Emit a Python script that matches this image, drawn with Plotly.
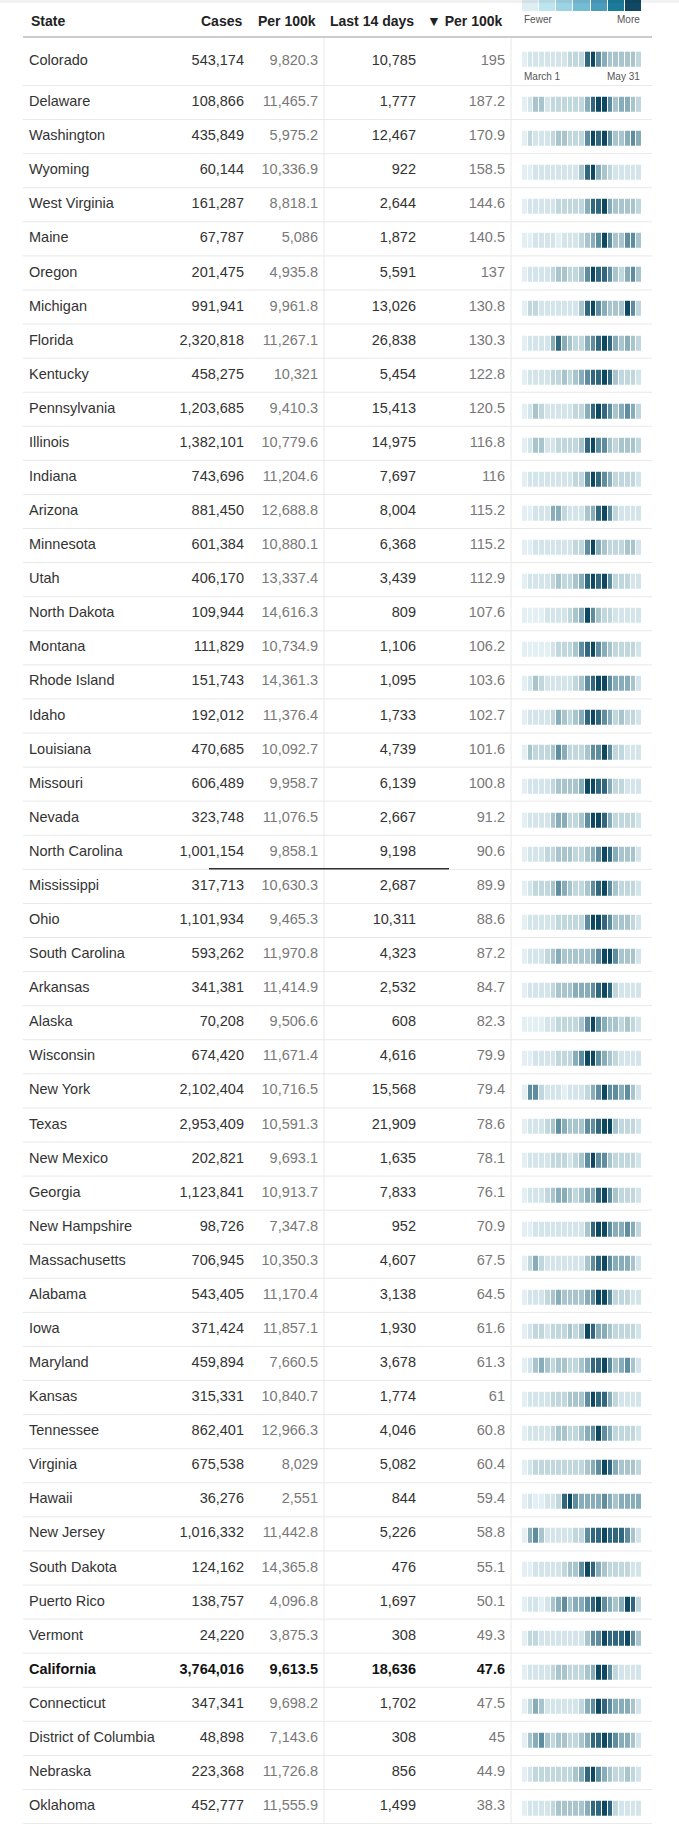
import plotly.graph_objects as go

states = ["Colorado", "Delaware", "Washington", "Wyoming", "West Virginia", "Maine", "Oregon",
          "Michigan", "Florida", "Kentucky", "Pennsylvania", "Illinois", "Indiana", "Arizona",
          "Minnesota", "Utah", "North Dakota", "Montana", "Rhode Island", "Idaho", "Louisiana",
          "Missouri", "Nevada", "North Carolina", "Mississippi", "Ohio", "South Carolina",
          "Arkansas", "Alaska", "Wisconsin", "New York", "Texas", "New Mexico", "Georgia",
          "New Hampshire", "Massachusetts", "Alabama", "Iowa", "Maryland", "Kansas", "Tennessee",
          "Virginia", "Hawaii", "New Jersey", "South Dakota", "Puerto Rico", "Vermont",
          "California", "Connecticut", "District of Columbia", "Nebraska", "Oklahoma"]

cases = [543174, 108866, 435849, 60144, 161287, 67787, 201475, 991941, 2320818, 458275,
         1203685, 1382101, 743696, 881450, 601384, 406170, 109944, 111829, 151743, 192012,
         470685, 606489, 323748, 1001154, 317713, 1101934, 593262, 341381, 70208, 674420,
         2102404, 2953409, 202821, 1123841, 98726, 706945, 543405, 371424, 459894, 315331,
         862401, 675538, 36276, 1016332, 124162, 138757, 24220, 3764016, 347341, 48898,
         223368, 452777]

per_100k = [9820.3, 11465.7, 5975.2, 10336.9, 8818.1, 5086, 4935.8, 9961.8, 11267.1, 10321,
            9410.3, 10779.6, 11204.6, 12688.8, 10880.1, 13337.4, 14616.3, 10734.9, 14361.3,
            11376.4, 10092.7, 9958.7, 11076.5, 9858.1, 10630.3, 9465.3, 11970.8, 11414.9,
            9506.6, 11671.4, 10716.5, 10591.3, 9693.1, 10913.7, 7347.8, 10350.3, 11170.4,
            11857.1, 7660.5, 10840.7, 12966.3, 8029, 2551, 11442.8, 14365.8, 4096.8, 3875.3,
            9613.5, 9698.2, 7143.6, 11726.8, 11555.9]

last_14 = [10785, 1777, 12467, 922, 2644, 1872, 5591, 13026, 26838, 5454, 15413, 14975, 7697,
           8004, 6368, 3439, 809, 1106, 1095, 1733, 4739, 6139, 2667, 9198, 2687, 10311, 4323,
           2532, 608, 4616, 15568, 21909, 1635, 7833, 952, 4607, 3138, 1930, 3678, 1774, 4046,
           5082, 844, 5226, 476, 1697, 308, 18636, 1702, 308, 856, 1499]

per_100k_14 = [195, 187.2, 170.9, 158.5, 144.6, 140.5, 137, 130.8, 130.3, 122.8, 120.5, 116.8,
               116, 115.2, 115.2, 112.9, 107.6, 106.2, 103.6, 102.7, 101.6, 100.8, 91.2, 90.6,
               89.9, 88.6, 87.2, 84.7, 82.3, 79.9, 79.4, 78.6, 78.1, 76.1, 70.9, 67.5, 64.5,
               61.6, 61.3, 61, 60.8, 60.4, 59.4, 58.8, 55.1, 50.1, 49.3, 47.6, 47.5, 45, 44.9,
               38.3]

# shade level (0 = fewest ... 7 = most) of each period from March 1 to May 31
weekly_levels = [
    [0, 1, 1, 1, 1, 1, 1, 1, 2, 2, 2, 6, 7, 5, 4, 3, 3, 3, 3, 3, 2],
    [0, 1, 3, 3, 1, 2, 2, 2, 2, 2, 2, 4, 6, 7, 7, 5, 3, 4, 4, 3, 2],
    [0, 2, 1, 1, 1, 2, 3, 3, 2, 2, 2, 5, 7, 6, 7, 5, 3, 3, 4, 5, 4],
    [0, 0, 1, 1, 1, 1, 1, 1, 1, 1, 3, 6, 7, 4, 3, 2, 1, 1, 1, 1, 1],
    [0, 1, 1, 1, 1, 1, 2, 2, 2, 2, 2, 4, 6, 6, 7, 4, 3, 3, 3, 3, 2],
    [0, 0, 1, 1, 1, 1, 0, 1, 1, 1, 2, 3, 4, 5, 7, 5, 3, 3, 5, 5, 3],
    [0, 1, 1, 1, 1, 2, 3, 3, 2, 2, 3, 5, 7, 6, 6, 5, 3, 2, 4, 5, 3],
    [0, 2, 2, 1, 1, 1, 1, 1, 1, 1, 3, 6, 7, 5, 4, 3, 3, 3, 7, 5, 2],
    [0, 1, 1, 1, 1, 4, 6, 4, 3, 2, 2, 4, 5, 6, 7, 6, 4, 3, 4, 3, 2],
    [0, 1, 1, 1, 1, 2, 2, 3, 2, 3, 4, 5, 6, 6, 7, 6, 3, 2, 2, 2, 1],
    [0, 1, 3, 2, 1, 1, 1, 1, 1, 2, 2, 4, 6, 7, 6, 5, 3, 4, 5, 4, 2],
    [0, 1, 3, 3, 1, 1, 2, 2, 2, 2, 3, 6, 7, 5, 5, 3, 2, 3, 3, 3, 2],
    [0, 1, 1, 1, 1, 1, 1, 1, 1, 2, 2, 5, 7, 6, 5, 4, 2, 2, 2, 2, 1],
    [0, 0, 1, 1, 1, 4, 4, 2, 1, 1, 1, 3, 4, 6, 7, 5, 2, 1, 1, 1, 1],
    [0, 0, 1, 1, 1, 1, 1, 1, 1, 2, 2, 5, 7, 4, 3, 2, 2, 2, 3, 3, 1],
    [0, 1, 1, 1, 1, 2, 3, 2, 2, 3, 4, 6, 7, 6, 7, 5, 2, 2, 2, 1, 1],
    [0, 0, 0, 0, 1, 1, 1, 1, 2, 3, 4, 7, 5, 3, 2, 2, 1, 1, 1, 1, 1],
    [0, 0, 0, 0, 0, 1, 2, 2, 2, 3, 5, 6, 7, 5, 4, 3, 2, 2, 2, 2, 1],
    [0, 1, 3, 2, 1, 1, 1, 1, 1, 2, 3, 5, 6, 7, 7, 5, 4, 4, 4, 3, 1],
    [0, 1, 1, 1, 1, 2, 4, 3, 2, 3, 4, 6, 7, 6, 5, 4, 2, 3, 2, 2, 1],
    [0, 3, 2, 2, 2, 3, 5, 4, 2, 2, 2, 3, 5, 5, 7, 5, 2, 2, 1, 1, 1],
    [0, 1, 1, 1, 1, 2, 3, 3, 3, 3, 4, 7, 7, 6, 6, 4, 2, 2, 1, 1, 1],
    [0, 1, 1, 1, 1, 3, 4, 4, 2, 2, 3, 5, 7, 7, 6, 4, 2, 2, 2, 2, 1],
    [0, 1, 1, 1, 2, 2, 3, 3, 3, 2, 2, 3, 4, 5, 7, 6, 4, 3, 3, 3, 1],
    [0, 1, 2, 2, 2, 3, 5, 4, 3, 2, 2, 3, 5, 6, 7, 5, 3, 2, 2, 2, 1],
    [0, 1, 1, 1, 1, 1, 2, 2, 2, 2, 2, 5, 7, 7, 6, 5, 3, 3, 3, 2, 1],
    [0, 1, 1, 1, 2, 3, 4, 3, 3, 3, 3, 3, 4, 5, 7, 7, 5, 3, 3, 3, 1],
    [0, 1, 1, 1, 1, 2, 3, 3, 3, 4, 4, 4, 5, 6, 7, 6, 2, 1, 1, 1, 1],
    [0, 0, 0, 0, 1, 1, 2, 2, 2, 2, 3, 5, 7, 5, 4, 3, 3, 2, 3, 2, 1],
    [0, 0, 1, 1, 1, 1, 2, 2, 2, 4, 5, 7, 7, 5, 4, 3, 2, 1, 1, 1, 1],
    [0, 5, 5, 2, 1, 1, 1, 0, 1, 1, 1, 2, 4, 5, 7, 5, 5, 4, 5, 3, 1],
    [0, 1, 1, 1, 2, 3, 5, 4, 3, 3, 3, 5, 5, 6, 7, 7, 3, 2, 2, 2, 1],
    [0, 1, 1, 1, 1, 2, 2, 2, 1, 2, 3, 5, 7, 5, 5, 3, 2, 2, 2, 2, 1],
    [0, 1, 1, 1, 2, 3, 4, 4, 3, 2, 3, 4, 4, 6, 7, 5, 3, 2, 2, 2, 1],
    [0, 0, 1, 1, 1, 1, 1, 1, 1, 1, 1, 3, 6, 7, 7, 5, 4, 4, 5, 4, 2],
    [0, 2, 4, 2, 1, 1, 1, 1, 1, 1, 1, 3, 5, 6, 7, 5, 4, 4, 4, 3, 1],
    [0, 1, 1, 1, 2, 3, 4, 3, 3, 3, 3, 4, 5, 7, 7, 5, 2, 2, 2, 1, 1],
    [0, 1, 2, 2, 1, 2, 2, 2, 3, 2, 3, 7, 6, 4, 4, 3, 2, 2, 2, 2, 1],
    [0, 1, 3, 4, 3, 2, 3, 3, 2, 2, 3, 4, 6, 6, 7, 5, 3, 4, 5, 3, 1],
    [0, 1, 1, 1, 1, 2, 2, 2, 3, 3, 3, 5, 7, 6, 6, 4, 2, 1, 1, 1, 1],
    [0, 1, 1, 1, 1, 2, 3, 3, 2, 2, 3, 4, 5, 7, 5, 4, 2, 2, 2, 2, 1],
    [0, 1, 2, 2, 2, 2, 2, 2, 2, 2, 2, 3, 4, 5, 7, 6, 4, 3, 3, 3, 2],
    [0, 1, 0, 0, 1, 1, 2, 6, 7, 5, 4, 4, 4, 4, 5, 4, 3, 4, 4, 4, 4],
    [0, 4, 5, 3, 1, 1, 1, 1, 1, 2, 2, 5, 6, 6, 7, 6, 6, 6, 5, 3, 1],
    [0, 0, 1, 1, 1, 1, 1, 2, 3, 3, 5, 7, 6, 4, 3, 2, 2, 2, 2, 1, 1],
    [0, 1, 1, 0, 1, 3, 4, 5, 3, 4, 4, 5, 6, 7, 5, 4, 3, 4, 7, 6, 2],
    [0, 2, 2, 1, 1, 1, 1, 1, 1, 1, 1, 3, 5, 5, 7, 6, 6, 6, 7, 5, 3],
    [0, 1, 1, 1, 1, 2, 3, 3, 2, 2, 2, 3, 4, 7, 7, 5, 2, 1, 1, 1, 1],
    [0, 2, 4, 3, 1, 1, 1, 1, 1, 1, 2, 4, 5, 7, 6, 5, 4, 4, 4, 3, 1],
    [0, 3, 4, 5, 3, 2, 3, 3, 2, 2, 3, 4, 6, 6, 7, 6, 5, 4, 4, 3, 1],
    [0, 1, 2, 2, 2, 2, 2, 2, 2, 3, 4, 6, 7, 5, 4, 3, 2, 2, 3, 2, 1],
    [0, 1, 1, 1, 1, 2, 3, 3, 3, 3, 3, 4, 6, 6, 7, 6, 2, 1, 1, 1, 1],
]

legend_levels = [0, 1, 2, 3, 4, 5, 6]
highlight_state = "California"

# ---- styling ----
W, H = 679, 1833
FONT = "Liberation Sans, Arial, sans-serif"
strip_colors = ["#e2eff4", "#d3e4ea", "#c1d7de", "#a8c5ce", "#88adba", "#5f8da0",
                "#31677e", "#0c4862"]
legend_colors = ["#dfeef3", "#bde5ef", "#9dd3e2", "#74bcd4", "#4b9bbb", "#1c7b9a", "#104864"]

x_left, x_right = 23, 652
x_state = 29
x_cases, x_per, x_div1, x_last, x_per14, x_div2 = 244, 318, 324, 416, 505, 511
strip_x0, strip_x1 = 522, 642

header_y = 37
first_bottom = 85.5
row_h = 34.08


def steps(colors):
    n = len(colors)
    scale = []
    for i, c in enumerate(colors):
        scale += [[i / n, c], [(i + 1) / n, c]]
    return scale


def fmt(v):
    s = f"{v:,.1f}"
    return s[:-2] if s.endswith(".0") else s


n = len(states)
row_top = [header_y] + [first_bottom + i * row_h for i in range(n - 1)]
row_bot = [first_bottom + i * row_h for i in range(n)]
row_mid = [61] + [t + 17 for t in row_top[1:]]
strip_top = [51.7] + [t + 11.2 for t in row_top[1:]]

fig = go.Figure()

# heat strips, gap rows left empty
z, y_edges = [], []
for i, levels in enumerate(weekly_levels):
    if i:
        z.append([None] * len(levels))
    z.append(levels)
    y_edges += [strip_top[i], strip_top[i] + 15]
ncell = len(weekly_levels[0])
x_edges = [strip_x0 + k * (strip_x1 - strip_x0) / ncell for k in range(ncell + 1)]
fig.add_trace(go.Heatmap(z=z, x=x_edges, y=y_edges, colorscale=steps(strip_colors),
                         zmin=-0.5, zmax=len(strip_colors) - 0.5, xgap=1, showscale=False,
                         hoverinfo="skip"))

# colour key
nl = len(legend_levels)
fig.add_trace(go.Heatmap(z=[legend_levels],
                         x=[strip_x0 + k * (strip_x1 - strip_x0) / nl for k in range(nl + 1)],
                         y=[0, 10.7], colorscale=steps(legend_colors), zmin=-0.5,
                         zmax=nl - 0.5, xgap=1, showscale=False, hoverinfo="skip"))


def col(values, x, pos, color, f=str):
    txt = []
    for s, v in zip(states, values):
        t = f(v)
        txt.append(f"<b>{t}</b>" if s == highlight_state else t)
    cols = ["#121212" if s == highlight_state else color for s in states]
    fig.add_trace(go.Scatter(x=[x] * n, y=row_mid, mode="text", text=txt,
                             textposition=pos, hoverinfo="skip", showlegend=False,
                             textfont=dict(family=FONT, size=14.5, color=cols)))


col(states, x_state, "middle right", "#333333")
col(cases, x_cases, "middle left", "#333333", lambda v: f"{v:,}")
col(per_100k, x_per, "middle left", "#787878", fmt)
col(last_14, x_last, "middle left", "#333333", lambda v: f"{v:,}")
col(per_100k_14, x_per14, "middle left", "#787878", fmt)

# grid lines
shapes = [dict(type="line", x0=x_left, x1=x_right, y0=header_y, y1=header_y,
               line=dict(color="#cccccc", width=2))]
for b in row_bot:
    shapes.append(dict(type="line", x0=x_left, x1=x_right, y0=b, y1=b,
                       line=dict(color="#e8e8e8", width=1)))
for xv in (x_div1, x_div2):
    shapes.append(dict(type="line", x0=xv, x1=xv, y0=header_y + 1, y1=row_bot[-1],
                       line=dict(color="#e8e8e8", width=1)))
nc = states.index("North Carolina")
shapes.append(dict(type="line", x0=209, x1=449, y0=row_bot[nc] - 0.5, y1=row_bot[nc] - 0.5,
                   line=dict(color="#333333", width=1.5)))
shapes.append(dict(type="rect", x0=0, x1=W, y0=0, y1=3, line_width=0,
                   fillcolor="rgba(0,0,0,0.05)", layer="above"))
for s in shapes:
    s.update(xref="x", yref="y")

hdr = dict(family=FONT, size=14, color="#222222")
small = dict(family=FONT, size=10, color="#555555")
ann = [
    dict(x=x_state, y=21, text="<b>State</b>", xanchor="left", font=hdr),
    dict(x=x_cases, y=21, text="<b>Cases</b>", xanchor="right", font=hdr),
    dict(x=x_per, y=21, text="<b>Per 100k</b>", xanchor="right", font=hdr),
    dict(x=x_last, y=21, text="<b>Last 14 days</b>", xanchor="right", font=hdr),
    dict(x=x_per14, y=21, text="<b>▼ Per 100k</b>", xanchor="right", font=hdr),
    dict(x=strip_x0, y=19, text="Fewer", xanchor="left", font=small),
    dict(x=strip_x1, y=19, text="More", xanchor="right", font=small),
    dict(x=strip_x0, y=76, text="March 1", xanchor="left", font=small),
    dict(x=strip_x1, y=76, text="May 31", xanchor="right", font=small),
]
for a in ann:
    a.update(xref="x", yref="y", showarrow=False, yanchor="middle")

fig.update_layout(
    width=W, height=H, margin=dict(l=0, r=0, t=0, b=0),
    paper_bgcolor="white", plot_bgcolor="white",
    xaxis=dict(range=[0, W], visible=False, fixedrange=True),
    yaxis=dict(range=[H, 0], visible=False, fixedrange=True),
    shapes=shapes, annotations=ann, showlegend=False,
)

# drop the browser's default page margin so the figure sits at the window corner
fig.write_html("out.html", config={"displayModeBar": False},
               post_script="document.body.style.margin = '0';")
